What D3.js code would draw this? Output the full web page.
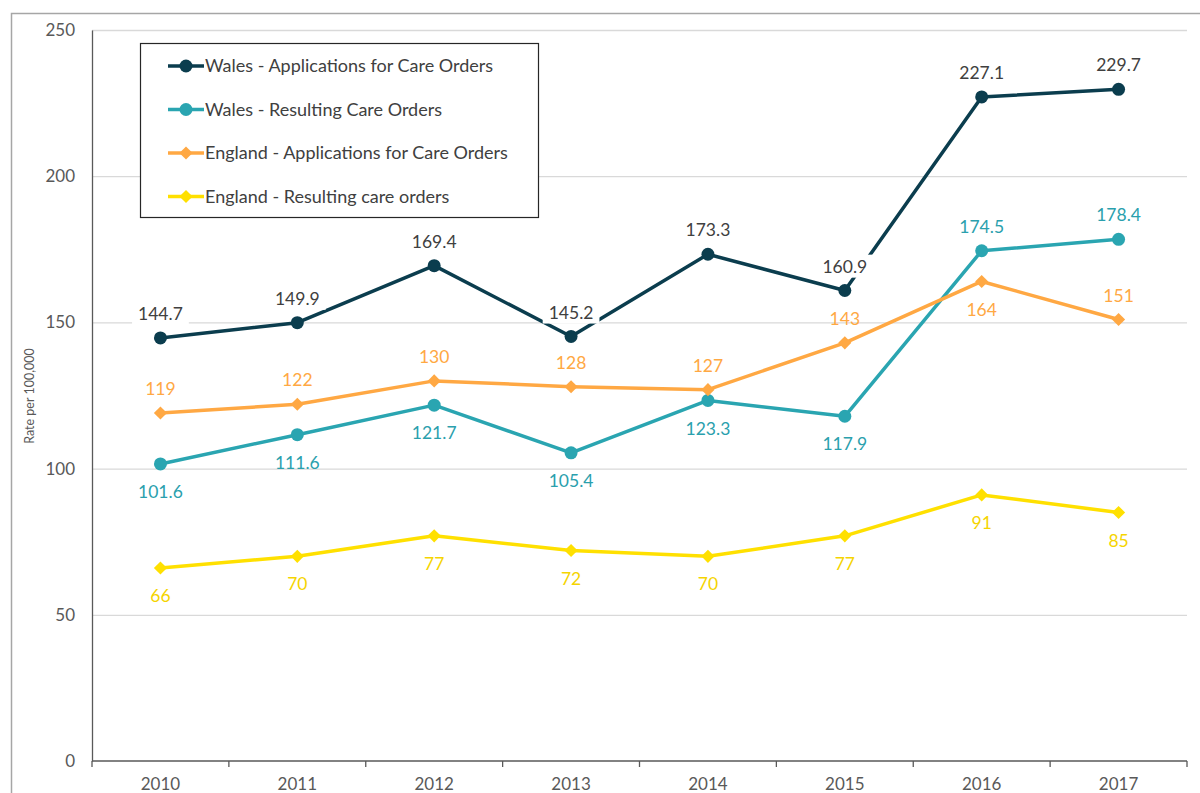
<!DOCTYPE html>
<html>
<head>
<meta charset="utf-8">
<script src="https://cdn.jsdelivr.net/npm/d3@7"></script>
<style>
  body { margin: 0; background: #fff; }
  svg { font-family: Lato, "Open Sans", sans-serif; }
</style>
</head>
<body>
<svg id="chart" width="1200" height="793"></svg>
<script>
// ---- data
const years = ["2010", "2011", "2012", "2013", "2014", "2015", "2016", "2017"];
const walesApps = [144.7, 149.9, 169.4, 145.2, 173.3, 160.9, 227.1, 229.7];
const walesOrders = [101.6, 111.6, 121.7, 105.4, 123.3, 117.9, 174.5, 178.4];
const englandApps = [119, 122, 130, 128, 127, 143, 164, 151];
const englandOrders = [66, 70, 77, 72, 70, 77, 91, 85];
const yTicks = [0, 50, 100, 150, 200, 250];

// where each label sits relative to its point
const walesAppsPos = ["a", "a", "a", "a", "a", "a", "a", "a"];
const walesOrdersPos = ["b", "b", "b", "b", "b", "b", "a", "a"];
const englandAppsPos = ["a", "a", "a", "a", "a", "a", "b", "a"];
const englandOrdersPos = ["b", "b", "b", "b", "b", "b", "b", "b"];

const series = [
  {name: "Wales - Applications for Care Orders", values: walesApps, pos: walesAppsPos,
   color: "#0b3d4e", text: "#404040", marker: "circle", fmt: d3.format(".1f"), boxed: true},
  {name: "Wales - Resulting Care Orders", values: walesOrders, pos: walesOrdersPos,
   color: "#2aa5b1", text: "#2aa0ad", marker: "circle", fmt: d3.format(".1f")},
  {name: "England - Applications for Care Orders", values: englandApps, pos: englandAppsPos,
   color: "#ffa843", text: "#ffa843", marker: "diamond", fmt: d3.format("d")},
  {name: "England - Resulting care orders", values: englandOrders, pos: englandOrdersPos,
   color: "#ffe000", text: "#f5d400", marker: "diamond", fmt: d3.format("d")}
];

const svg = d3.select("#chart");

// outer chart border
svg.append("rect").attr("x", 11.5).attr("y", 13.5).attr("width", 1300).attr("height", 900)
  .attr("fill", "none").attr("stroke", "#a6a6a6").attr("stroke-width", 1.5);

const plotL = 92, plotR = 1187, plotT = 30, plotB = 761;

const x = d3.scaleBand().domain(years).range([plotL, plotR]);
const y = d3.scaleLinear().domain([0, 250]).range([plotB, plotT]);

//----------- gridlines
svg.append("g").selectAll("line").data(yTicks.filter(t => t > 0)).join("line")
  .attr("x1", plotL).attr("x2", plotR)
  .attr("y1", d => y(d) + 0.5).attr("y2", d => y(d) + 0.5)
  .attr("stroke", "#d9d9d9").attr("stroke-width", 1.3);

//----------- y axis
const yAxis = svg.append("g").attr("transform", `translate(${plotL},0)`)
  .call(d3.axisLeft(y).tickValues(yTicks).tickSize(0).tickPadding(17));
yAxis.select(".domain").attr("stroke", "#595959").attr("stroke-width", 1.3);
yAxis.selectAll("text").attr("font-size", 17).attr("fill", "#595959")
  .attr("font-family", "Lato, sans-serif");

svg.append("text")
  .attr("transform", "translate(34,396) rotate(-90)")
  .attr("text-anchor", "middle")
  .attr("font-size", 12.5).attr("fill", "#595959")
  .text("Rate per 100,000");

//----------- x axis (ticks between categories)
const xAxisG = svg.append("g").attr("transform", `translate(0,${plotB})`);
xAxisG.append("line").attr("x1", plotL).attr("x2", plotR).attr("y1", 0).attr("y2", 0)
  .attr("stroke", "#595959").attr("stroke-width", 1.5);
const bounds = years.map(yr => x(yr)).concat([plotR]);
xAxisG.selectAll("line.tk").data(bounds).join("line").attr("class", "tk")
  .attr("x1", d => d).attr("x2", d => d).attr("y1", 0).attr("y2", 6)
  .attr("stroke", "#595959").attr("stroke-width", 1.3);
xAxisG.selectAll("text").data(years).join("text")
  .attr("x", d => x(d) + x.bandwidth() / 2).attr("y", 29)
  .attr("text-anchor", "middle").attr("font-size", 17).attr("fill", "#595959")
  .text(d => d);

//----------- lines + markers
const cx = d => x(d) + x.bandwidth() / 2;
const line = d3.line().x((v, i) => cx(years[i])).y(v => y(v));
const diamond = d3.symbol().type(d3.symbolDiamond2).size(110);

function drawMarker(g, s, px, py) {
  if (s.marker === "circle") {
    g.append("circle").attr("cx", px).attr("cy", py).attr("r", 6.5).attr("fill", s.color);
  } else {
    g.append("path").attr("d", diamond).attr("transform", `translate(${px},${py})`)
      .attr("fill", s.color);
  }
}

for (let s of series) {
  const g = svg.append("g");
  g.append("path").datum(s.values).attr("d", line)
    .attr("fill", "none").attr("stroke", s.color).attr("stroke-width", 3.5)
    .attr("stroke-linejoin", "round");
  s.values.forEach((v, i) => drawMarker(g, s, cx(years[i]), y(v)));
}

//----------- data labels
for (let s of series) {
  const g = svg.append("g");
  s.values.forEach((v, i) => {
    const px = cx(years[i]);
    const py = s.pos[i] === "a" ? y(v) - 24 : y(v) + 28;
    const t = g.append("text").attr("x", px).attr("y", py)
      .attr("dy", "0.35em").attr("text-anchor", "middle")
      .attr("font-size", 17.5).attr("fill", s.text).text(s.fmt(v));
    if (s.boxed) {
      const bb = t.node().getBBox();
      g.insert("rect", () => t.node())
        .attr("x", bb.x - 6).attr("y", bb.y - 1).attr("width", bb.width + 12).attr("height", bb.height + 2)
        .attr("fill", "#fff");
    }
  });
}

//----------- legend
const lg = svg.append("g").attr("transform", "translate(140,43)");
lg.append("rect").attr("x", 0.5).attr("y", 0.5).attr("width", 398).attr("height", 174)
  .attr("fill", "#fff").attr("stroke", "#262626").attr("stroke-width", 1.2);
series.forEach((s, i) => {
  const ly = 23 + i * 43.5;
  const row = lg.append("g");
  row.append("line").attr("x1", 28).attr("x2", 64).attr("y1", ly).attr("y2", ly)
    .attr("stroke", s.color).attr("stroke-width", 3.5);
  drawMarker(row, s, 46, ly);
  row.append("text").attr("x", 65).attr("y", ly).attr("dy", "0.35em")
    .attr("font-size", 18).attr("fill", "#404040").text(s.name);
});
</script>
</body>
</html>
